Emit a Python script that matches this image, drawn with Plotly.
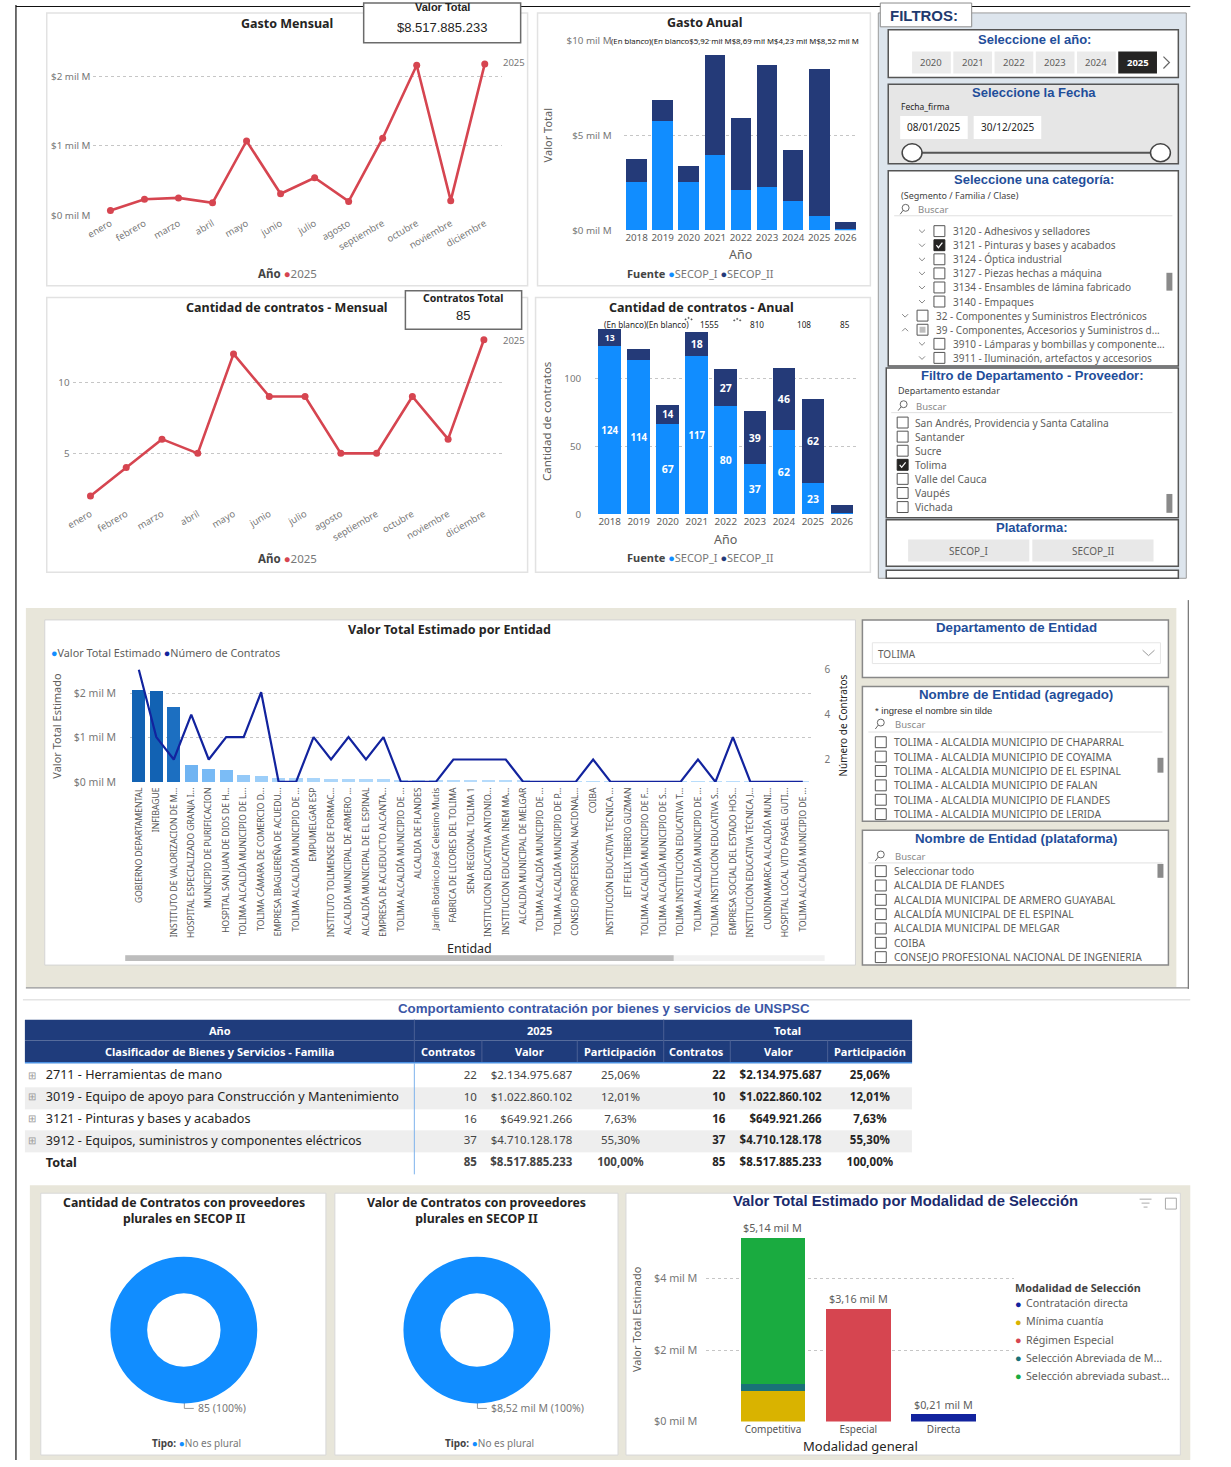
import plotly.graph_objects as go

W, H = 1231, 1467
def X(p): return p / W
def Y(p): return 1 - p / H

FONT = "Noto Sans"
FONT_A = "Liberation Sans"
GRAY = "#605E5C"
DARK = "#252423"
TBLUE = "#1F4E9A"
RED = "#D64550"
C1 = "#118DFF"
C2 = "#243A78"
NAVYL = "#12239E"
NAVY = "#1F3C7C"
BEIGE = "#E8E6DA"

# ---------------- DATA ----------------
meses = ["enero", "febrero", "marzo", "abril", "mayo", "junio", "julio",
         "agosto", "septiembre", "octubre", "noviembre", "diciembre"]
gasto_mensual = [0.07, 0.23, 0.25, 0.18, 1.07, 0.31, 0.54, 0.20, 1.11, 2.16, 0.21, 2.18]
contratos_mensual = [2, 4, 6, 5, 12, 9, 9, 5, 5, 9, 6, 13]
serie_anio = "2025"
valor_total_card = "$8.517.885.233"
contratos_total_card = "85"

anios = ["2018", "2019", "2020", "2021", "2022", "2023", "2024", "2025", "2026"]
gasto_secop_i = [2.54, 5.75, 2.53, 3.97, 2.09, 2.26, 1.52, 0.75, 0.05]
gasto_secop_ii = [1.19, 1.11, 0.83, 5.25, 3.82, 6.42, 2.71, 7.77, 0.39]
gasto_top_labels = "(En blanco)(En blanco$5,92 mil M$8,69 mil M$4,23 mil M$8,52 mil M"
cant_secop_i = [124, 114, 67, 117, 80, 37, 62, 23, 1]
cant_secop_ii = [13, 8, 14, 18, 27, 39, 46, 62, 6]
cant_top_labels = ["(En blanco)(En blanco)", "1555", "810", "108", "85"]

entidades = [
    "GOBIERNO DEPARTAMENTAL", "INFIBAGUE", "INSTITUTO DE VALORIZACION DE M...",
    "HOSPITAL ESPECIALIZADO GRANJA I...", "MUNICIPIO DE PURIFICACION",
    "HOSPITAL SAN JUAN DE DIOS DE H...", "TOLIMA ALCALDÍA MUNICIPIO DE L...",
    "TOLIMA CÁMARA DE COMERCIO D...", "EMPRESA IBAGUEREÑA DE ACUEDU...",
    "TOLIMA ALCALDÍA MUNICIPIO DE ...", "EMPUMELGAR ESP",
    "INSTITUTO TOLIMENSE DE FORMAC...", "ALCALDIA MUNICIPAL DE ARMERO ...",
    "ALCALDÍA MUNICIPAL DE EL ESPINAL", "EMPRESA DE ACUEDUCTO ALCANTA...",
    "TOLIMA ALCALDÍA MUNICIPIO DE ...", "ALCALDIA DE FLANDES",
    "Jardín Botánico José Celestino Mutis", "FABRICA DE LICORES DEL TOLIMA",
    "SENA REGIONAL TOLIMA 1", "INSTITUCION EDUCATIVA ANTONIO...",
    "INSTITUCION EDUCATIVA INEM MA...", "ALCALDIA MUNICIPAL DE MELGAR",
    "TOLIMA ALCALDÍA MUNICIPIO DE ...", "TOLIMA ALCALDÍA MUNICIPIO DE P...",
    "CONSEJO PROFESIONAL NACIONAL...", "COIBA", "INSTITUCIÓN EDUCATIVA TECNICA ...",
    "IET FELIX TIBERIO GUZMAN", "TOLIMA ALCALDÍA MUNICIPIO DE F...",
    "TOLIMA ALCALDÍA MUNICIPIO DE S...", "TOLIMA INSTITUCIÓN EDUCATIVA T...",
    "TOLIMA ALCALDÍA MUNICIPIO DE ...", "TOLIMA INSTITUCIÓN EDUCATIVA S...",
    "EMPRESA SOCIAL DEL ESTADO HOS...", "INSTITUCIÓN EDUCATIVA TÉCNICA J...",
    "CUNDINAMARCA ALCALDÍA MUNI...", "HOSPITAL LOCAL VITO FASAEL GUTI...",
    "TOLIMA ALCALDÍA MUNICIPIO DE ...",
]
valor_entidad = [2.07, 2.06, 1.69, 0.37, 0.29, 0.26, 0.16, 0.13, 0.09, 0.08, 0.08, 0.07,
                 0.07, 0.06, 0.06, 0.05, 0.045, 0.04, 0.04, 0.035, 0.034, 0.033, 0.032,
                 0.031, 0.030, 0.029, 0.028, 0.027, 0.026, 0.025, 0.024, 0.023, 0.022,
                 0.021, 0.020, 0.019, 0.018, 0.017, 0.016]
contratos_entidad = [6, 3, 2, 4, 2, 3, 3, 5, 1, 1, 3, 2, 3, 2, 3, 1, 1, 1, 2,
                     2, 2, 2, 1, 1, 1, 1, 2, 1, 1, 1, 1, 1, 2, 1, 3, 1, 1, 1, 1]

modalidad_general = ["Competitiva", "Especial", "Directa"]
modalidad_series = ["Contratación directa", "Mínima cuantía", "Régimen Especial",
                    "Selección Abreviada de M...", "Selección abreviada subast..."]
modalidad_valores = [
    [0, 0, 0.21],
    [0.85, 0, 0],
    [0, 3.16, 0],
    [0.19, 0, 0],
    [4.10, 0, 0],
]
modalidad_colores = ["#12239E", "#D9B300", "#D64550", "#197278", "#1AAB40"]

tipo_plural = ["No es plural"]
cant_plural = [85]
valor_plural = [8517885233]

familias = ["2711 - Herramientas de mano",
            "3019 - Equipo de apoyo para Construcción y Mantenimiento",
            "3121 - Pinturas y bases y acabados",
            "3912 - Equipos, suministros y componentes eléctricos"]
contratos_familia = [22, 10, 16, 37]
valor_familia = [2134975687, 1022860102, 649921266, 4710128178]
tabla_encabezado_1 = ["Año", "2025", "Total"]
tabla_encabezado_2 = ["Clasificador de Bienes y Servicios - Familia", "Contratos", "Valor",
                      "Participación", "Contratos", "Valor", "Participación"]

anios_filtro = ["2020", "2021", "2022", "2023", "2024", "2025"]
anio_sel = "2025"
fecha_ini, fecha_fin = "08/01/2025", "30/12/2025"
categorias = [("3120 - Adhesivos y selladores", 2, ""),
              ("3121 - Pinturas y bases y acabados", 2, "check"),
              ("3124 - Óptica industrial", 2, ""),
              ("3127 - Piezas hechas a máquina", 2, ""),
              ("3134 - Ensambles de lámina fabricado", 2, ""),
              ("3140 - Empaques", 2, ""),
              ("32 - Componentes y Suministros Electrónicos", 1, ""),
              ("39 - Componentes, Accesorios y Suministros d...", 1, "partial"),
              ("3910 - Lámparas y bombillas y componente...", 2, ""),
              ("3911 - Iluminación, artefactos y accesorios", 2, "")]
departamentos = ["San Andrés, Providencia y Santa Catalina", "Santander", "Sucre",
                 "Tolima", "Valle del Cauca", "Vaupés", "Vichada"]
depto_sel = "Tolima"
plataformas = ["SECOP_I", "SECOP_II"]
depto_entidad = "TOLIMA"
entidad_agregado = ["TOLIMA - ALCALDIA MUNICIPIO DE CHAPARRAL",
                    "TOLIMA - ALCALDIA MUNICIPIO DE COYAIMA",
                    "TOLIMA - ALCALDIA MUNICIPIO DE EL ESPINAL",
                    "TOLIMA - ALCALDIA MUNICIPIO DE FALAN",
                    "TOLIMA - ALCALDIA MUNICIPIO DE FLANDES",
                    "TOLIMA - ALCALDIA MUNICIPIO DE LERIDA"]
entidad_plataforma = ["Seleccionar todo", "ALCALDIA DE FLANDES",
                      "ALCALDIA MUNICIPAL DE ARMERO GUAYABAL",
                      "ALCALDÍA MUNICIPAL DE EL ESPINAL",
                      "ALCALDIA MUNICIPAL DE MELGAR", "COIBA",
                      "CONSEJO PROFESIONAL NACIONAL DE INGENIERIA"]

# ---------------- HELPERS ----------------
shapes, annotations = [], []

def rect(x0, y0, x1, y1, fill="white", line="rgba(0,0,0,0)", lw=1, layer="below"):
    shapes.append(dict(type="rect", xref="paper", yref="paper", x0=X(x0), x1=X(x1),
                       y0=Y(y1), y1=Y(y0), fillcolor=fill,
                       line=dict(color=line, width=lw), layer=layer))

def seg(x0, y0, x1, y1, color="#000", lw=1, layer="below", dash=None):
    d = dict(color=color, width=lw)
    if dash:
        d["dash"] = dash
    shapes.append(dict(type="line", xref="paper", yref="paper", x0=X(x0), x1=X(x1),
                       y0=Y(y0), y1=Y(y1), line=d, layer=layer))

def circ(x0, y0, x1, y1, fill="white", line="#444", lw=1, layer="below"):
    shapes.append(dict(type="circle", xref="paper", yref="paper", x0=X(x0), x1=X(x1),
                       y0=Y(y1), y1=Y(y0), fillcolor=fill,
                       line=dict(color=line, width=lw), layer=layer))

def path(pts, color="#777", lw=1, layer="below"):
    p = "M " + " L ".join(f"{X(a):.6f} {Y(b):.6f}" for a, b in pts)
    shapes.append(dict(type="path", xref="paper", yref="paper", path=p,
                       line=dict(color=color, width=lw), layer=layer))

def txt(x, y, s, size=9, color=GRAY, xanchor="center", family=FONT, angle=0, yanchor="middle"):
    annotations.append(dict(x=X(x), y=Y(y), xref="paper", yref="paper", text=s,
                            showarrow=False, xanchor=xanchor, yanchor=yanchor,
                            textangle=angle, borderpad=0,
                            font=dict(size=size, color=color, family=family)))

def checkbox(x, y, state=""):
    if state == "check":
        rect(x, y - 5.5, x + 11, y + 5.5, fill=DARK, line=DARK, lw=1)
        path([(x + 2.5, y), (x + 4.5, y + 2.5), (x + 8.5, y - 2.5)], color="white", lw=1.2)
    else:
        rect(x, y - 5.5, x + 11, y + 5.5, fill="white", line="#555", lw=1)
        if state == "partial":
            rect(x + 2.5, y - 3, x + 8.5, y + 3, fill="#bdbdbd")

def chevron(x, y, up=False, color="#888"):
    d = -1 if up else 1
    path([(x - 3, y - 1.5 * d), (x, y + 1.5 * d), (x + 3, y - 1.5 * d)], color=color, lw=1)

def search_icon(x, y):
    circ(x - 1, y - 5, x + 6, y + 2, fill="rgba(0,0,0,0)", line="#666", lw=1)
    seg(x, y + 1, x - 3, y + 5, color="#666", lw=1)

def tiny_dots(x, y):
    for dx, dy in [(-3, 1), (0, -0.5), (3, 1)]:
        circ(x + dx - 0.7, y + dy - 0.7, x + dx + 0.7, y + dy + 0.7, fill="#555",
             line="#555", lw=0.5)

def fmt_money(v):
    return "$" + f"{v:,}".replace(",", ".")

def fmt_pct(p):
    return f"{p:.2f}".replace(".", ",") + "%"

fig = go.Figure()

# ---------------- BACKGROUND STRUCTURE ----------------
seg(8, 0, 8, 1467, color="#111", lw=1.2)
seg(8, 1.5, 1190, 1.5, color="#111", lw=1.2)
rect(39, 8, 523, 283, line="#e2e2e2", lw=1.5)
rect(533, 8, 868, 283, line="#e2e2e2", lw=1.5)
rect(39, 295, 523, 572, line="#e2e2e2", lw=1.5)
rect(531, 295, 868, 572, line="#e2e2e2", lw=1.5)
rect(876, 8, 1186, 578, fill="#DDE5ED", line="#9a9a9a", lw=1)
rect(18, 608, 1176, 990, fill=BEIGE)
seg(1188, 600, 1188, 992, color="#555", lw=1)
seg(18, 991, 1188, 991, color="#777", lw=1)
rect(37, 620, 853, 968, line="#d4d4d4", lw=1)
seg(15, 1003, 1190, 1003, color="#e4e4e4", lw=1.5)
rect(22, 1190, 1190, 1467, fill=BEIGE)
rect(33, 1198, 320, 1462, line="#d8d8d8", lw=1)
rect(329, 1198, 614, 1462, line="#d8d8d8", lw=1)
rect(622, 1198, 1180, 1462, line="#d8d8d8", lw=1)

# ---------------- 1. GASTO MENSUAL ----------------
fig.add_trace(go.Scatter(x=meses, y=gasto_mensual, xaxis="x", yaxis="y",
                         mode="lines+markers", line=dict(color=RED, width=2.6),
                         marker=dict(color=RED, size=7), hoverinfo="skip"))
txt(281, 19, "<b>Gasto Mensual</b>", 12.5, DARK)
rect(358, -2, 516, 38, line="#6b6b6b", lw=1.5, layer="above")
txt(437, 2, "<b>Valor Total</b>", 11, DARK, family=FONT_A)
txt(437, 23, valor_total_card, 13, DARK, family=FONT_A)
annotations.append(dict(x=len(meses) - 1, y=gasto_mensual[-1], xref="x", yref="y",
                        text=serie_anio, showarrow=False, xshift=29, yshift=1,
                        font=dict(size=9.5, color="#777", family=FONT)))
txt(281, 271, f"<b><span style='color:#444'>Año</span></b> <span style='color:{RED}'>●</span>{serie_anio}", 11.5, "#777")

# ---------------- 2. GASTO ANUAL ----------------
fig.add_trace(go.Bar(x=anios, y=gasto_secop_i, xaxis="x2", yaxis="y2", width=0.79,
                     marker=dict(color=C1, line=dict(width=0)), hoverinfo="skip"))
fig.add_trace(go.Bar(x=anios, y=gasto_secop_ii, xaxis="x2", yaxis="y2", width=0.79,
                     marker=dict(color=C2, line=dict(width=0)), hoverinfo="skip"))
txt(701, 18, "<b>Gasto Anual</b>", 12.5, DARK)
txt(606, 36, gasto_top_labels, 7.8, DARK, xanchor="left")
txt(543, 131, "Valor Total", 11, GRAY, angle=-90)
txt(737, 252, "Año", 12.5, GRAY)
txt(697, 271, f"<b><span style='color:#444'>Fuente</span></b> <span style='color:{C1}'>●</span>SECOP_I <span style='color:{C2}'>●</span>SECOP_II", 11, "#777")

# ---------------- 3. CANTIDAD MENSUAL ----------------
fig.add_trace(go.Scatter(x=meses, y=contratos_mensual, xaxis="x3", yaxis="y3",
                         mode="lines+markers", line=dict(color=RED, width=2.6),
                         marker=dict(color=RED, size=7), hoverinfo="skip"))
txt(281, 305, "<b>Cantidad de contratos - Mensual</b>", 12.5, DARK)
rect(400, 288, 517, 327, line="#6b6b6b", lw=1.5, layer="above")
txt(458, 295, "<b>Contratos Total</b>", 10.5, DARK, family=FONT)
txt(458, 313, contratos_total_card, 13, DARK, family=FONT_A)
annotations.append(dict(x=len(meses) - 1, y=contratos_mensual[-1], xref="x3", yref="y3",
                        text=serie_anio, showarrow=False, xshift=30, yshift=-1,
                        font=dict(size=9.5, color="#777", family=FONT)))
txt(281, 558, f"<b><span style='color:#444'>Año</span></b> <span style='color:{RED}'>●</span>{serie_anio}", 11.5, "#777")

# ---------------- 4. CANTIDAD ANUAL ----------------
def lab(vals):
    return [str(v) if v >= 10 else "" for v in vals]

fig.add_trace(go.Bar(x=anios, y=cant_secop_i, xaxis="x4", yaxis="y4", width=0.78,
                     marker=dict(color=C1, line=dict(width=0)), text=lab(cant_secop_i),
                     textposition="inside", insidetextanchor="middle", textangle=0,
                     textfont=dict(color="white", size=10.5, family=FONT, weight="bold"),
                     hoverinfo="skip"))
fig.add_trace(go.Bar(x=anios, y=cant_secop_ii, xaxis="x4", yaxis="y4", width=0.78,
                     marker=dict(color=C2, line=dict(width=0)), text=lab(cant_secop_ii),
                     textposition="inside", insidetextanchor="middle", textangle=0,
                     textfont=dict(color="white", size=10.5, family=FONT, weight="bold"),
                     hoverinfo="skip"))
txt(698, 305, "<b>Cantidad de contratos - Anual</b>", 12.5, DARK)
for s, (xp, xa) in zip(cant_top_labels, [(599, "left"), (706, "center"), (754, "center"),
                                         (801, "center"), (842, "center")]):
    txt(xp, 322, s, 8.2, DARK, xanchor=xa)
tiny_dots(685, 316)
tiny_dots(734, 317)
txt(542, 420, "Cantidad de contratos", 11.5, GRAY, angle=-90)
txt(722, 539, "Año", 12.5, GRAY)
txt(697, 557, f"<b><span style='color:#444'>Fuente</span></b> <span style='color:{C1}'>●</span>SECOP_I <span style='color:{C2}'>●</span>SECOP_II", 11, "#777")

# ---------------- FILTROS PANEL ----------------
rect(878, -2, 970, 22, line="#8c8c8c", lw=1)
txt(922, 11, "<b>FILTROS:</b>", 15, "#1F3A6E", family=FONT_A)
rect(886, 25, 1178, 73, line="#555", lw=1.5)
txt(1033, 35, "<b>Seleccione el año:</b>", 13, TBLUE, family=FONT_A)
for i, a in enumerate(anios_filtro):
    x0 = 910 + i * 41.5
    sel = a == anio_sel
    rect(x0, 47, x0 + 39, 69, fill="#252423" if sel else "#EBEBEB")
    txt(x0 + 19.5, 58, f"<b>{a}</b>" if sel else a, 9.5, "white" if sel else GRAY)
path([(1163, 52), (1169, 58), (1163, 64)], color="#666", lw=1.2)
rect(886, 80, 1178, 160, fill="#E6E6E6", line="#555", lw=1.5)
txt(1033, 88, "<b>Seleccione la Fecha</b>", 13, TBLUE, family=FONT_A)
txt(898, 102, "Fecha_firma", 8.5, DARK, xanchor="left")
rect(898, 112, 966, 135)
rect(972, 112, 1040, 135)
txt(932, 123.5, fecha_ini, 10, DARK)
txt(1006, 123.5, fecha_fin, 10, DARK)
seg(910, 149, 1160, 149, color="#555", lw=2)
circ(900, 140, 920, 158, line="#444", lw=1.5)
circ(1150, 140, 1170, 158, line="#444", lw=1.5)
rect(886, 167, 1178, 364, line="#555", lw=1.5)
txt(1033, 176, "<b>Seleccione una categoría:</b>", 13, TBLUE, family=FONT_A)
txt(898, 192, "(Segmento / Familia / Clase)", 9, "#444", xanchor="left")
search_icon(901, 206)
txt(915, 206.5, "Buscar", 9.5, "#888", xanchor="left")
seg(892, 212.5, 1172, 212.5, color="#e0e0e0", lw=1)
for i, (name, lvl, st) in enumerate(categorias):
    yy = 228 + i * 14.2
    cx = 920 if lvl == 2 else 903
    chevron(cx, yy, up=(st == "partial"))
    checkbox(cx + 12, yy, st)
    txt(cx + 30, yy, name, 10, GRAY, xanchor="left")
rect(1166, 270, 1172, 288, fill="#8a8a8a")
rect(884, 366, 1178, 517, line="#555", lw=1.5)
txt(1031, 374, "<b>Filtro de Departamento - Proveedor:</b>", 13, TBLUE, family=FONT_A)
txt(895, 389, "Departamento estandar", 9, "#444", xanchor="left")
search_icon(899, 404)
txt(913, 404.5, "Buscar", 9.5, "#888", xanchor="left")
seg(889, 411, 1172, 411, color="#e0e0e0", lw=1)
for i, d in enumerate(departamentos):
    yy = 421 + i * 14.2
    checkbox(895, yy, "check" if d == depto_sel else "")
    txt(912, yy, d, 10.2, GRAY, xanchor="left")
rect(1166, 493, 1172, 512, fill="#8a8a8a")
rect(884, 519, 1178, 566, line="#555", lw=1.5)
txt(1031, 527, "<b>Plataforma:</b>", 13, TBLUE, family=FONT_A)
for i, p in enumerate(plataformas):
    x0 = 906 + i * 125
    rect(x0, 539, x0 + 122, 561, fill="#E8E8E8")
    txt(x0 + 61, 550, p, 10, GRAY)
rect(884, 570, 1178, 578, line="#555", lw=1.5)

# ---------------- 5. VALOR POR ENTIDAD ----------------
idx = list(range(len(entidades)))
fig.add_trace(go.Bar(x=idx, y=valor_entidad, xaxis="x5", yaxis="y5", width=0.76,
                     marker=dict(color=valor_entidad, cmin=0, cmax=max(valor_entidad),
                                 colorscale=[[0, "#BFE0FC"], [0.12, "#7CBDF6"],
                                             [0.5, "#2E86DA"], [1, "#1262B3"]],
                                 line=dict(width=0)), hoverinfo="skip"))
fig.add_trace(go.Scatter(x=idx, y=contratos_entidad, xaxis="x5", yaxis="y6", mode="lines",
                         line=dict(color=NAVYL, width=2.2), hoverinfo="skip"))
txt(444, 630, "<b>Valor Total Estimado por Entidad</b>", 12.5, DARK)
txt(42, 653, f"<span style='color:{C1}'>●</span>Valor Total Estimado <span style='color:{NAVYL}'>●</span>Número de Contratos", 10.8, GRAY, xanchor="left")
txt(48, 727, "Valor Total Estimado", 11, GRAY, angle=-90)
txt(841, 727, "Número de Contratos", 10, DARK, angle=-90)
txt(465, 951, "Entidad", 12.5, DARK)
rect(118, 958, 822, 964, fill="#f1f1f1")
rect(118, 958, 670, 964, fill="#bdbdbd")

rect(860, 620, 1168, 678, line="#888", lw=1.5)
txt(1015, 628, "<b>Departamento de Entidad</b>", 13.3, TBLUE, family=FONT_A)
rect(870, 643, 1160, 664, line="#e6e6e6", lw=1)
txt(875, 654, depto_entidad, 10, GRAY, xanchor="left")
path([(1142, 650.5), (1148, 656), (1154, 650.5)], color="#999", lw=1)

rect(860, 687, 1168, 823, line="#888", lw=1.5)
txt(1015, 695, "<b>Nombre de Entidad (agregado)</b>", 13.3, TBLUE, family=FONT_A)
txt(872, 711, "* ingrese el nombre sin tilde", 9.5, "#333", xanchor="left", family=FONT_A)
search_icon(876, 725)
txt(892, 725.5, "Buscar", 9.5, "#888", xanchor="left")
seg(866, 733, 1162, 733, color="#e0e0e0", lw=1)
for i, e in enumerate(entidad_agregado):
    yy = 743.3 + i * 14.5
    checkbox(873, yy)
    txt(891, yy, e, 10.3, GRAY, xanchor="left")
rect(1157, 759, 1163, 774, fill="#8a8a8a")

rect(860, 832, 1168, 968, line="#888", lw=1.5)
txt(1015, 840, "<b>Nombre de Entidad (plataforma)</b>", 13.3, TBLUE, family=FONT_A)
search_icon(876, 858)
txt(892, 858.5, "Buscar", 9.5, "#888", xanchor="left")
seg(866, 865, 1162, 865, color="#e0e0e0", lw=1)
for i, e in enumerate(entidad_plataforma):
    yy = 873.3 + i * 14.45
    checkbox(873, yy)
    txt(891, yy, e, 10.3, GRAY, xanchor="left")
rect(1157, 866, 1163, 880, fill="#8a8a8a")

# ---------------- TABLE ----------------
total_val = sum(valor_familia)
total_con = sum(contratos_familia)
part = [v / total_val * 100 for v in valor_familia]
txt(600, 1012, "<b>Comportamiento contratación por bienes y servicios de UNSPSC</b>", 13.3, "#3B57A6", family=FONT_A)

TX0 = 17
bounds = [0, 392, 460, 556, 643, 710, 808, 893]
rect(17, 1023, 910, 1044, fill=NAVY)
for b0, b1, lbl in [(0, 392, tabla_encabezado_1[0]), (392, 643, tabla_encabezado_1[1]),
                    (643, 893, tabla_encabezado_1[2])]:
    txt(TX0 + (b0 + b1) / 2, 1033.5, f"<b>{lbl}</b>", 11, "white")
seg(TX0 + 392, 1023, TX0 + 392, 1044, color="#4a5f95")
seg(TX0 + 643, 1023, TX0 + 643, 1044, color="#4a5f95")
rect(17, 1044, 910, 1066, fill=NAVY)
for j, lbl in enumerate(tabla_encabezado_2):
    txt(TX0 + (bounds[j] + bounds[j + 1]) / 2, 1055, f"<b>{lbl}</b>", 11, "white")
    if j > 0:
        seg(TX0 + bounds[j], 1044, TX0 + bounds[j], 1066, color="#4a5f95")

nrows = len(familias) + 1
rows = list(range(nrows))
fig.add_trace(go.Heatmap(x=bounds, y=[r - 0.5 for r in range(nrows + 1)],
                         z=[[r % 2] * 7 for r in rows], zmin=0, zmax=1,
                         colorscale=[[0, "white"], [1, "#EEEEEE"]], showscale=False,
                         xaxis="x8", yaxis="y8", hoverinfo="skip"))
col0 = familias + ["<b>Total</b>"]
colc = [str(c) for c in contratos_familia] + [f"<b>{total_con}</b>"]
colv = [fmt_money(v) for v in valor_familia] + [f"<b>{fmt_money(total_val)}</b>"]
colp = [fmt_pct(p) for p in part] + [f"<b>{fmt_pct(100)}</b>"]
bold = lambda col: [c if c.startswith("<b>") else f"<b>{c}</b>" for c in col]
tcols = [
    (["⊞"] * len(familias) + [""], 7, "middle center", 10, "#9a9a9a"),
    (col0, 21, "middle right", 12.6, DARK),
    (colc, 455, "middle left", 11.5, "#444"),
    (colv, 551, "middle left", 11.5, "#444"),
    (colp, 599.5, "middle center", 11.5, "#444"),
    (bold(colc), 705, "middle left", 11.5, DARK),
    (bold(colv), 802, "middle left", 11.5, DARK),
    (bold(colp), 850.5, "middle center", 11.5, DARK),
]
for vals, xp, pos, fs, colr in tcols:
    fig.add_trace(go.Scatter(x=[xp] * nrows, y=rows, mode="text", text=vals,
                             textposition=pos, xaxis="x8", yaxis="y8", cliponaxis=False,
                             textfont=dict(size=fs, color=colr, family=FONT),
                             hoverinfo="skip"))
seg(17, 1066.5, 910, 1066.5, color="#4A90E2", lw=1.5, layer="above")
seg(409, 1067, 409, 1179, color="#7DB3EC", lw=1, layer="above")

# ---------------- DONUTS ----------------
for i, (vals, lbl, title) in enumerate([
        (cant_plural, f"{cant_plural[0]} (100%)",
         "<b>Cantidad de Contratos con proveedores<br>plurales en SECOP II</b>"),
        (valor_plural, "$" + f"{valor_plural[0] / 1e9:.2f}".replace(".", ",") + " mil M (100%)",
         "<b>Valor de Contratos con proveedores<br>plurales en SECOP II</b>")]):
    cx = 177 if i == 0 else 472
    fig.add_trace(go.Pie(labels=tipo_plural, values=vals, hole=0.5, sort=False,
                         domain=dict(x=[X(cx - 75), X(cx + 75)], y=[Y(1410), Y(1262)]),
                         marker=dict(colors=[C1], line=dict(width=0)), textinfo="none",
                         hoverinfo="skip", showlegend=False))
    txt(cx, 1215, title, 12.3, DARK)
    path([(cx + 0.5, 1409), (cx + 0.5, 1415), (cx + 10, 1415)], color="#999", lw=1)
    txt(cx + 13, 1415, lbl, 10.5, "#777", xanchor="left")
    txt(cx + 13, 1450, f"<b><span style='color:#444'>Tipo:</span></b> <span style='color:{C1}'>●</span>{tipo_plural[0]}", 10, "#777")

# ---------------- MODALIDAD ----------------
for name, vals, col in zip(modalidad_series, modalidad_valores, modalidad_colores):
    fig.add_trace(go.Bar(x=modalidad_general, y=vals, xaxis="x7", yaxis="y7", width=0.76,
                         marker=dict(color=col, line=dict(width=0)), name=name,
                         hoverinfo="skip"))
totals = [sum(s[j] for s in modalidad_valores) for j in range(len(modalidad_general))]
for cat, t in zip(modalidad_general, totals):
    annotations.append(dict(x=cat, y=t, xref="x7", yref="y7", yshift=10, showarrow=False,
                            text="$" + f"{t:.2f}".replace(".", ",") + " mil M",
                            font=dict(size=10.8, color=GRAY, family=FONT)))
txt(903, 1206, "<b>Valor Total Estimado por Modalidad de Selección</b>", 14.8, "#1A2A6C", family=FONT_A)
seg(1139, 1204, 1151, 1204, color="#aaa")
seg(1141, 1208, 1149, 1208, color="#aaa")
seg(1143, 1212, 1147, 1212, color="#aaa")
rect(1165, 1203, 1176, 1214, fill="rgba(0,0,0,0)", line="#aaa", lw=1)
txt(632, 1325, "Valor Total Estimado", 11, GRAY, angle=-90)
txt(858, 1453, "Modalidad general", 13, DARK)
txt(1013, 1293, "<b>Modalidad de Selección</b>", 10.8, "#444", xanchor="left")
for i, (name, col) in enumerate(zip(modalidad_series, modalidad_colores)):
    yy = 1309 + i * 18.3
    txt(1017, yy, "●", 11, col)
    txt(1024, yy, name, 10.7, GRAY, xanchor="left")

# ---------------- AXES ----------------
def xcat(l, r, rng, **kw):
    d = dict(domain=[X(l), X(r)], range=rng, showgrid=False, zeroline=False, showline=False,
             ticks="", tickfont=dict(size=9.5, color="#777", family=FONT), fixedrange=True)
    d.update(kw)
    return d

def yval(b, t, rng, tv, tt, standoff=2, **kw):
    d = dict(domain=[Y(b), Y(t)], range=rng, tickvals=tv, ticktext=tt, showgrid=True,
             gridcolor="#c6c6c6", griddash="dot", gridwidth=1, zeroline=False,
             showline=False, ticks="", ticklabelstandoff=standoff,
             tickfont=dict(size=9.8, color="#777", family=FONT), fixedrange=True)
    d.update(kw)
    return d

mil = lambda v: f"${v} mil M"
fig.update_layout(
    width=W, height=H, margin=dict(l=0, r=0, t=0, b=0),
    paper_bgcolor="white", plot_bgcolor="rgba(0,0,0,0)",
    barmode="stack", showlegend=False, font=dict(family=FONT, color=GRAY),
    xaxis=xcat(86, 497, [-0.5, 11.5], anchor="y", tickangle=-30),
    yaxis=yval(212, 50, [0, 2.314], [0, 1, 2], [mil(0), mil(1), mil(2)], anchor="x"),
    xaxis2=xcat(619.6, 855.9, [-0.5, 8.5], anchor="y2",
                tickfont=dict(size=9.8, color=GRAY, family=FONT)),
    yaxis2=yval(227, 34, [0, 10.09], [0, 5, 10], [mil(0), mil(5), mil(10)], standoff=11,
                anchor="x2"),
    xaxis3=xcat(65, 497, [-0.5, 11.5], anchor="y3", tickangle=-30),
    yaxis3=yval(505, 330, [1.305, 13.52], [5, 10], ["5", "10"], anchor="x3"),
    xaxis4=xcat(591, 854, [-0.5, 8.5], anchor="y4",
                tickfont=dict(size=9.8, color=GRAY, family=FONT)),
    yaxis4=yval(513.3, 318, [0, 143.3], [0, 50, 100], ["0", "50", "100"], standoff=13,
                anchor="x4"),
    xaxis5=xcat(122.9, 808.8, [-0.5, len(entidades) - 0.5], anchor="y5", tickangle=-90,
                tickvals=idx, ticktext=entidades, ticklabelstandoff=3,
                tickfont=dict(size=8.5, color="#555", family=FONT)),
    yaxis5=yval(783.3, 664, [0, 2.67], [0, 1, 2], [mil(0), mil(1), mil(2)], standoff=13,
                anchor="x5", tickfont=dict(size=10.5, color="#777", family=FONT)),
    yaxis6=dict(overlaying="y5", side="right", anchor="x5", range=[1, 6.28],
                tickvals=[2, 4, 6], showgrid=False, zeroline=False, showline=False,
                ticks="", ticklabelstandoff=12, fixedrange=True,
                tickfont=dict(size=10, color="#777", family=FONT)),
    xaxis7=xcat(703, 1013, [-0.78, 2.83], anchor="y7",
                tickfont=dict(size=10, color="#555", family=FONT)),
    yaxis7=yval(1428.3, 1225, [0, 5.64], [0, 2, 4], [mil(0), mil(2), mil(4)], standoff=8,
                anchor="x7", tickfont=dict(size=10.8, color="#777", family=FONT)),
    xaxis8=dict(domain=[X(17), X(910)], range=[0, 893], visible=False, fixedrange=True,
                anchor="y8"),
    yaxis8=dict(domain=[Y(1179), Y(1069)], range=[nrows - 0.5, -0.5], visible=False,
                fixedrange=True, anchor="x8"),
    shapes=shapes, annotations=annotations,
)

fig.write_html("out.html", config={"displayModeBar": False},
               post_script="document.body.style.margin='0';document.body.style.overflow='hidden';")
